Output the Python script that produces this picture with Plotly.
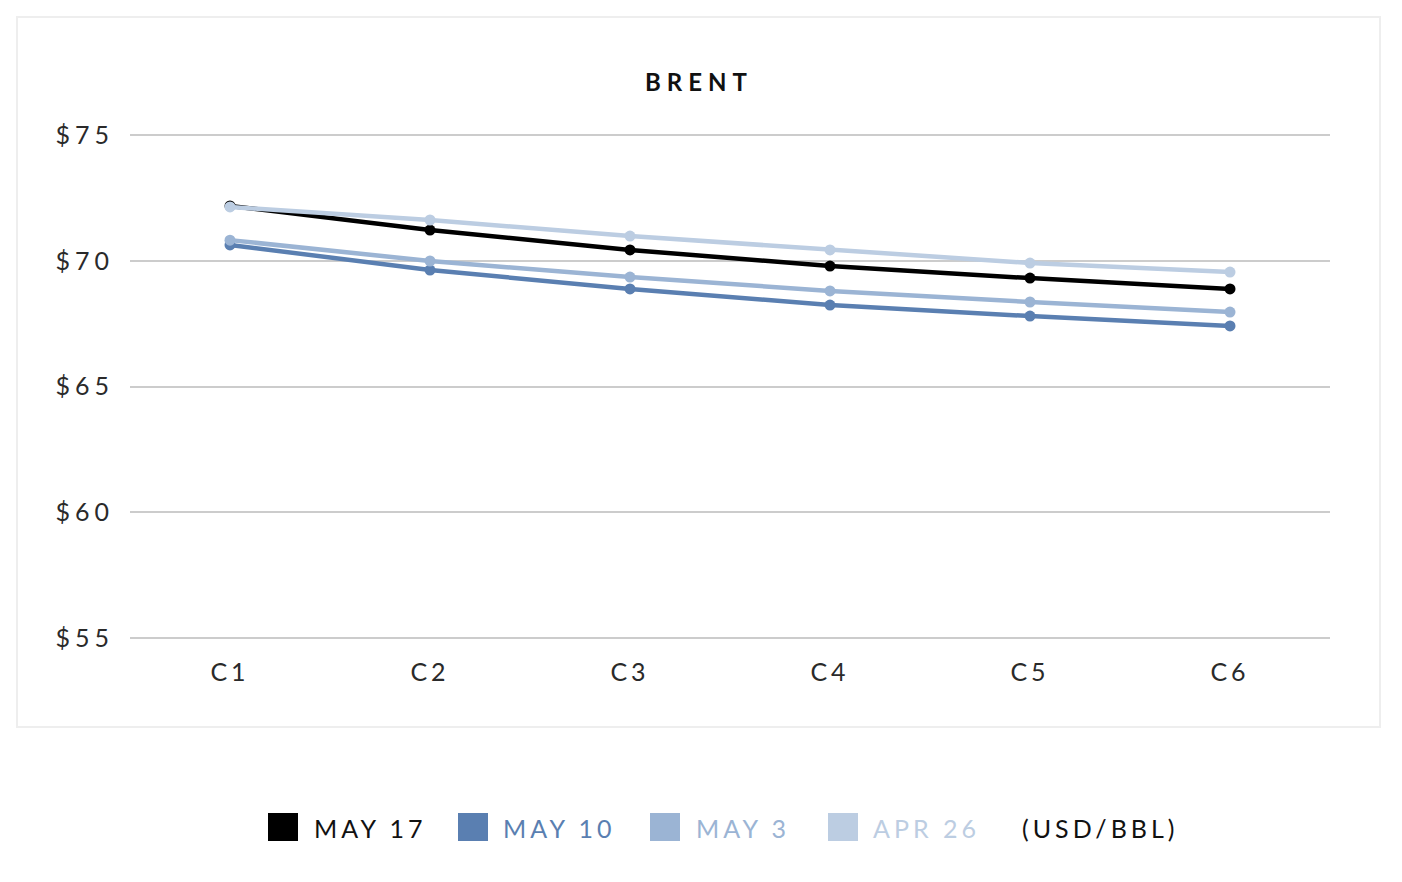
import plotly.graph_objects as go

# contract months and settlement curves (USD/BBL)
contracts = ["C1", "C2", "C3", "C4", "C5", "C6"]
series_names = ["MAY 17", "MAY 10", "MAY 3", "APR 26"]
may17 = [72.18, 71.22, 70.43, 69.79, 69.31, 68.88]
may10 = [70.63, 69.63, 68.88, 68.24, 67.80, 67.41]
may3 = [70.82, 69.99, 69.35, 68.80, 68.36, 67.96]
apr26 = [72.14, 71.62, 70.98, 70.43, 69.91, 69.55]
y_ticks = [55, 60, 65, 70, 75]

colors = ["#000000", "#5a7fb1", "#9bb4d4", "#bccde2"]
FONT = "Lato, 'Open Sans', sans-serif"

# page has an 8px body margin, so work in page pixels and shift
OFF = 8
W, H = 1402 - OFF, 882 - OFF
PL, PR, PT, PB = 130, 1330, 134, 639  # plot area in page pixels


def spaced(txt, px=3):
    return '<span style="letter-spacing:%dpx">%s</span>' % (px, txt)


def px_x(p):
    return (p - PL) / (PR - PL)


def px_y(p):
    return (PB - p) / (PB - PT)


fig = go.Figure()
for name, vals, col in zip(series_names, [may17, may10, may3, apr26], colors):
    fig.add_trace(go.Scatter(x=contracts, y=vals, mode="lines+markers", name=name,
                             line=dict(color=col, width=4.5),
                             marker=dict(color=col, size=11),
                             showlegend=False))

fig.update_layout(
    width=W, height=H,
    margin=dict(l=PL - OFF, r=W - (PR - OFF), t=PT - OFF, b=H - (PB - OFF), pad=0),
    paper_bgcolor="white", plot_bgcolor="white",
    font=dict(family=FONT, size=24, color="#2a2a2a"),
    title=dict(text="<b>" + spaced("BRENT", 6) + "</b>", x=px_x(699), xref="paper",
               xanchor="center", y=1 - (83 - OFF) / H, yref="container", yanchor="middle",
               font=dict(size=24, color="#111111")),
)

fig.update_xaxes(range=[-0.5, 5.5], showgrid=False, zeroline=False, showline=False,
                 ticks="", ticklabelstandoff=16,
                 tickfont=dict(size=25, color="#2a2a2a"),
                 tickvals=contracts, ticktext=[spaced(c, 4) for c in contracts])
fig.update_yaxes(range=[54.96, 75.04], showgrid=True, gridcolor="#cccccc", gridwidth=1.5,
                 zeroline=False, showline=False, ticks="", ticklabelstandoff=15,
                 tickvals=y_ticks, ticktext=[spaced("$%d" % v, 5) for v in y_ticks],
                 tickfont=dict(size=25, color="#2a2a2a"))

# outer frame
fig.add_shape(type="rect", xref="paper", yref="paper",
              x0=px_x(17), x1=px_x(1380), y0=px_y(727), y1=px_y(17),
              line=dict(color="#eeeeee", width=2), layer="below")

# custom legend with large square keys and coloured labels
sq_left = [268, 458, 650, 828]
text_left = [312, 501, 694, 871]
label_colors = ["#111111", "#5a7fb1", "#9bb4d4", "#bccde2"]
ly = px_y(828)
for name, col, lc, sx, tx in zip(series_names, colors, label_colors, sq_left, text_left):
    fig.add_shape(type="rect", xref="paper", yref="paper",
                  x0=px_x(sx), x1=px_x(sx + 30), y0=px_y(841), y1=px_y(813),
                  fillcolor=col, line=dict(width=0))
    fig.add_annotation(text=spaced(name, 4), xref="paper", yref="paper",
                       x=px_x(tx), y=ly, xanchor="left", yanchor="middle",
                       showarrow=False, font=dict(size=25, color=lc))
fig.add_annotation(text=spaced("(USD/BBL)", 4), xref="paper", yref="paper",
                   x=px_x(1020), y=ly, xanchor="left", yanchor="middle",
                   showarrow=False, font=dict(size=25, color="#111111"))

fig.write_html("out.html")
